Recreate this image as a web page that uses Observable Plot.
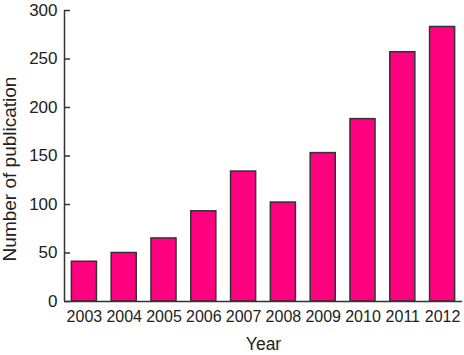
<!DOCTYPE html>
<html>
<head>
<meta charset="utf-8">
<script src="https://cdn.jsdelivr.net/npm/d3@7"></script>
<script src="https://cdn.jsdelivr.net/npm/@observablehq/plot@0.6"></script>
<style>
  html, body { margin: 0; padding: 0; background: #fff; }
  svg { font-family: "Liberation Sans", Arial, Helvetica, sans-serif; }
</style>
</head>
<body>
<div id="chart"></div>
<script>
const years = ["2003","2004","2005","2006","2007","2008","2009","2010","2011","2012"];
const counts = [41, 50, 65, 93, 134, 102, 153, 188, 257, 283];
const yTicks = [0, 50, 100, 150, 200, 250, 300];
const yLabel = "Number of publication";
const xLabel = "Year";

const data = years.map((y, i) => ({year: y, count: counts[i]}));

const W = 464, H = 355;
const mL = 64, mR = 2, mT = 10, mB = 54;
const frameW = W - mL - mR;
const pIn = 0.37, pOut = 0.185;
const step = frameW / (years.length - pIn + 2 * pOut);
const bw = step * (1 - pIn);
const axisDx = -(pOut * step + bw / 2);

const chart = Plot.plot({
  width: W,
  height: H,
  marginLeft: mL,
  marginRight: mR,
  marginTop: mT,
  marginBottom: mB,
  style: {fontSize: "16px", fontFamily: "'Liberation Sans', Arial, Helvetica, sans-serif", color: "#222", background: "#fff"},
  x: {domain: years, paddingInner: pIn, paddingOuter: pOut, round: false},
  y: {domain: [0, 300]},
  marks: [
    Plot.barY(data, {x: "year", y: "count", fill: "#ff0080", stroke: "#333", strokeWidth: 1.5}),
    Plot.axisX({tickSize: 0, tickPadding: 9, fontSize: 16, label: null, fill: "#222"}),
    Plot.axisY(yTicks, {tickSize: 0, tickPadding: 7, fontSize: 17, label: null, fill: "#222"}),
    Plot.ruleY(yTicks, {stroke: "#333", strokeWidth: 1.5, insetRight: frameW - 6}),
    Plot.ruleY([0], {stroke: "#333", strokeWidth: 1.5}),
    Plot.ruleX([years[0]], {stroke: "#333", strokeWidth: 1.5, y1: 0, y2: 300, dx: axisDx}),
    Plot.text([yLabel], {text: d => d, frameAnchor: "left", textAnchor: "middle", lineAnchor: "middle", rotate: -90, dx: -55, dy: 13, fontSize: 19, fill: "#222"}),
    Plot.text([xLabel], {text: d => d, frameAnchor: "bottom", textAnchor: "middle", lineAnchor: "bottom", dy: 48, fontSize: 17.5, fill: "#222"})
  ]
});
document.getElementById("chart").appendChild(chart);
</script>
</body>
</html>
